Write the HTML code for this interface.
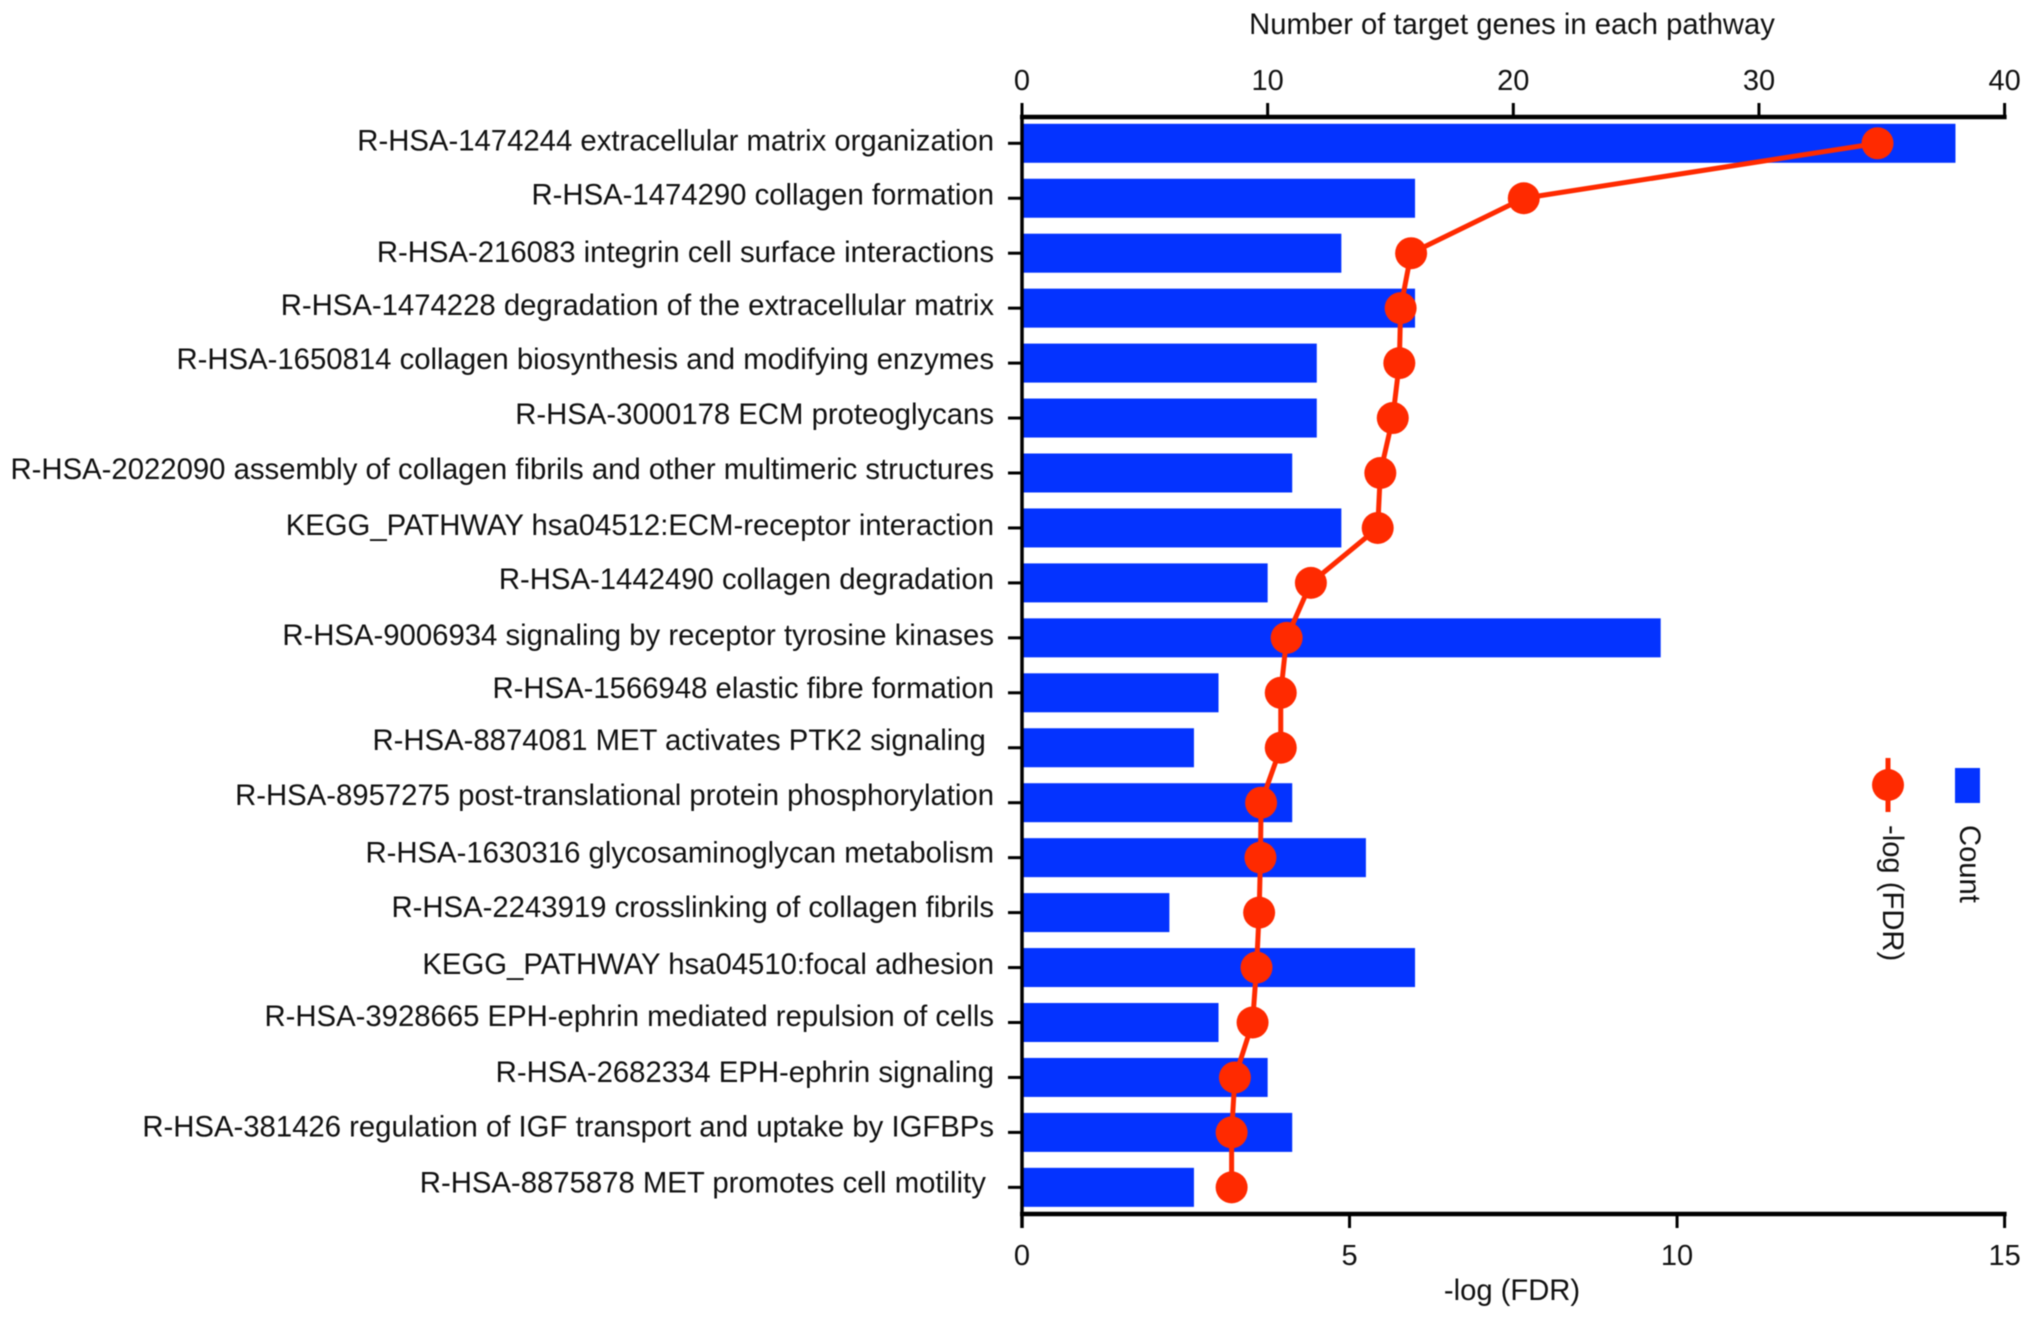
<!DOCTYPE html>
<html lang="en">
<head>
<meta charset="utf-8">
<title>Pathway enrichment chart</title>
<style>
html,body{margin:0;padding:0;background:#fff;}
body{width:2032px;height:1318px;overflow:hidden;}
svg{display:block;filter:blur(0.6px);}
text{font-family:"Liberation Sans",Arial,sans-serif;fill:#111;}
</style>
</head>
<body>
<svg id="chart" xmlns="http://www.w3.org/2000/svg" width="2032" height="1318" viewBox="0 0 2032 1318">
  <rect x="0" y="0" width="2032" height="1318" fill="#fff"/>
  <g id="bars"></g>
  <g id="axes"></g>
  <g id="labels"></g>
  <g id="series"></g>
  <text x="1512" y="34" font-size="29.2" text-anchor="middle">Number of target genes in each pathway</text>
  <text x="1512" y="1300" font-size="29.2" text-anchor="middle">-log (FDR)</text>
  <g>
    <g>
      <line x1="1888" y1="758" x2="1888" y2="812" stroke="#ff2a00" stroke-width="5"/>
      <circle cx="1888" cy="785" r="16" fill="#ff2a00"/>
      <text font-size="29.2" transform="translate(1883,825) rotate(90)">-log (FDR)</text>
    </g>
    <g>
      <rect x="1955" y="768" width="25" height="35" fill="#0433ff"/>
      <text font-size="29.2" transform="translate(1960,825) rotate(90)">Count</text>
    </g>
  </g>
</svg>
<script>
const categories = [
  "R-HSA-1474244 extracellular matrix organization",
  "R-HSA-1474290 collagen formation",
  "R-HSA-216083 integrin cell surface interactions",
  "R-HSA-1474228 degradation of the extracellular matrix",
  "R-HSA-1650814 collagen biosynthesis and modifying enzymes",
  "R-HSA-3000178 ECM proteoglycans",
  "R-HSA-2022090 assembly of collagen fibrils and other multimeric structures",
  "KEGG_PATHWAY hsa04512:ECM-receptor interaction",
  "R-HSA-1442490 collagen degradation",
  "R-HSA-9006934 signaling by receptor tyrosine kinases",
  "R-HSA-1566948 elastic fibre formation",
  "R-HSA-8874081 MET activates PTK2 signaling ",
  "R-HSA-8957275 post-translational protein phosphorylation",
  "R-HSA-1630316 glycosaminoglycan metabolism",
  "R-HSA-2243919 crosslinking of collagen fibrils",
  "KEGG_PATHWAY hsa04510:focal adhesion",
  "R-HSA-3928665 EPH-ephrin mediated repulsion of cells",
  "R-HSA-2682334 EPH-ephrin signaling",
  "R-HSA-381426 regulation of IGF transport and uptake by IGFBPs",
  "R-HSA-8875878 MET promotes cell motility "
];
const counts = [38,16,13,16,12,12,11,13,10,26,8,7,11,14,6,16,8,10,11,7];
const fdr = [13.06,7.66,5.94,5.78,5.76,5.66,5.47,5.43,4.41,4.04,3.95,3.95,3.65,3.64,3.62,3.58,3.52,3.25,3.2,3.2];
const countTicks = [0,10,20,30,40];
const fdrTicks = [0,5,10,15];

const NS = "http://www.w3.org/2000/svg";
const plotLeft = 1022, plotRight = 2004.6, topAxisY = 117, bottomAxisY = 1214;
const firstRowY = 143.3, rowStep = 54.95, barHeight = 39;
const labelShift = [-3,-4,-1,-3,-4,-4,-4,-3,-4,-3,-5,-8,-7.5,-5,-5.5,-3.5,-6.5,-5.5,-6,-5];

function xCount(v){ return plotLeft + v * (plotRight - plotLeft) / 40; }
function xFdr(v){ return plotLeft + v * (plotRight - plotLeft) / 15; }
function yRow(i){ return firstRowY + i * rowStep; }
function make(tag, parent, attrs){
  const el = document.createElementNS(NS, tag);
  for (const k in attrs) el.setAttribute(k, attrs[k]);
  parent.appendChild(el);
  return el;
}

const barsG = document.getElementById("bars");
const axesG = document.getElementById("axes");
const labelsG = document.getElementById("labels");
const seriesG = document.getElementById("series");
const axisColor = "#000";

counts.forEach(function(v, i){
  const bar = make("rect", barsG, {x: plotLeft, y: yRow(i) - barHeight / 2, width: xCount(v) - plotLeft, height: barHeight, fill: "#0433ff"});
  
  
});

const topLine = make("line", axesG, {x1: plotLeft - 2, x2: plotRight + 2, y1: topAxisY, y2: topAxisY, stroke: axisColor, "stroke-width": 4.5});


const bottomLine = make("line", axesG, {x1: plotLeft - 2, x2: plotRight + 2, y1: bottomAxisY, y2: bottomAxisY, stroke: axisColor, "stroke-width": 4.5});


const leftLine = make("line", axesG, {x1: plotLeft, x2: plotLeft, y1: topAxisY, y2: bottomAxisY + 14, stroke: axisColor, "stroke-width": 3.5});



countTicks.forEach(function(t){
  const x = xCount(t);
  const tick = make("line", axesG, {x1: x, x2: x, y1: topAxisY - 14, y2: topAxisY, stroke: axisColor, "stroke-width": 3});
  
  
  const lab = make("text", axesG, {x: x, y: 90, "font-size": 29, "text-anchor": "middle"});
  
  
  lab.textContent = t;
});

fdrTicks.forEach(function(t){
  const x = xFdr(t);
  const tick = make("line", axesG, {x1: x, x2: x, y1: bottomAxisY, y2: bottomAxisY + 14, stroke: axisColor, "stroke-width": 3});
  
  
  const lab = make("text", axesG, {x: x, y: 1265, "font-size": 29, "text-anchor": "middle"});
  
  
  lab.textContent = t;
});

categories.forEach(function(c, i){
  const y = yRow(i);
  const tick = make("line", axesG, {x1: plotLeft - 14, x2: plotLeft, y1: y, y2: y, stroke: axisColor, "stroke-width": 3});
  
  
  const lab = make("text", labelsG, {x: 994, y: y + labelShift[i] + 10, "font-size": 29.3, "text-anchor": "end"});
  
  
  lab.setAttribute('xml:space', 'preserve');
  lab.style.whiteSpace = 'pre';
  lab.textContent = c;
});

const linePts = fdr.map(function(v, i){ return xFdr(v) + "," + yRow(i); }).join(" ");
const fdrLine = make("polyline", seriesG, {points: linePts, fill: "none", stroke: "#ff2a00", "stroke-width": 5, "stroke-linejoin": "round"});


fdr.forEach(function(v, i){
  const pt = make("circle", seriesG, {cx: xFdr(v), cy: yRow(i), r: 16, fill: "#ff2a00"});
  
  
});
</script>
</body>
</html>
